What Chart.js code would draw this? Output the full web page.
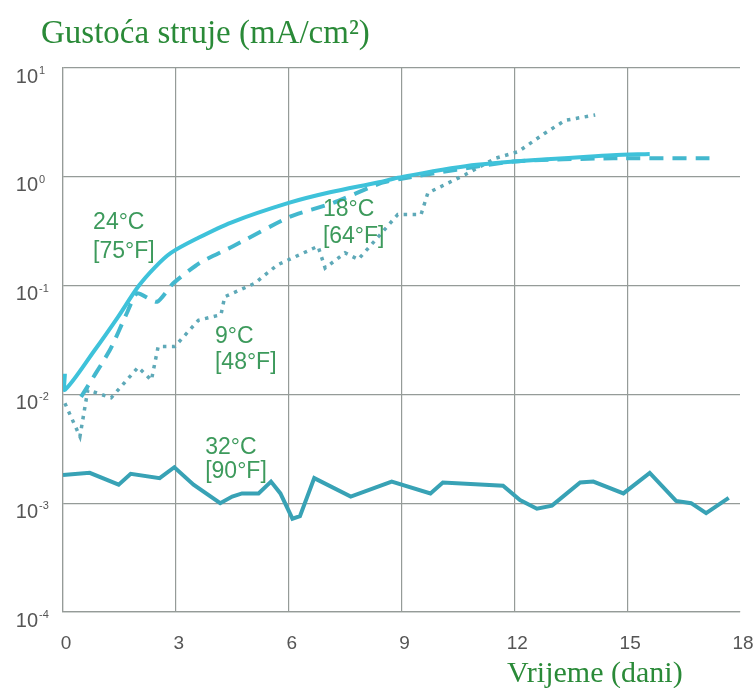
<!DOCTYPE html>
<html>
<head>
<meta charset="utf-8">
<script src="https://cdn.jsdelivr.net/npm/chart.js@4/dist/chart.umd.min.js"></script>
<style>
  html, body { margin: 0; padding: 0; background: #fff; }
  #wrap { width: 756px; height: 688px; }
</style>
</head>
<body>
<div id="wrap"><canvas id="chart"></canvas></div>
<script>
// 24°C [75°F] - solid line
const days24 = [0.05, 0.05, 0.85, 1.46, 2.0, 2.45, 2.87, 3.6, 4.47, 6.0, 7.1, 8.4, 8.9, 11.0, 14.6, 15.6];
const vals24 = [0.0155, 0.011, 0.0257, 0.0513, 0.098, 0.148, 0.2, 0.275, 0.38, 0.575, 0.72, 0.89, 0.98, 1.29, 1.58, 1.62];

// 18°C [64°F] - dashed line
const days18 = [0.48, 1.25, 1.7, 1.97, 2.5, 2.93, 3.64, 4.52, 6.04, 7.18, 8.43, 8.96, 11.97, 14.63, 17.2];
const vals18 = [0.0095, 0.0257, 0.056, 0.085, 0.071, 0.105, 0.162, 0.23, 0.43, 0.575, 0.87, 0.955, 1.38, 1.48, 1.48];

// 9°C [48°F] - dotted line
const days9 = [0.05, 0.45, 0.66, 1.28, 2.0, 2.35, 2.53, 2.97, 3.6, 4.2, 4.3, 5.1, 5.7, 6.78, 6.97, 7.5, 7.85, 8.38, 8.9, 9.52, 9.7, 10.7, 11.5, 12.1, 12.8, 13.35, 14.15];
const vals9 = [0.0083, 0.0041, 0.011, 0.0093, 0.0178, 0.0135, 0.0275, 0.0275, 0.048, 0.054, 0.079, 0.105, 0.155, 0.23, 0.145, 0.2, 0.174, 0.28, 0.45, 0.45, 0.71, 1.05, 1.48, 1.7, 2.5, 3.3, 3.7];

// 32°C [90°F]
const days32 = [0, 0.71, 1.48, 1.8, 2.57, 2.96, 3.47, 4.18, 4.5, 4.76, 5.2, 5.53, 5.78, 6.1, 6.3, 6.68, 7.65, 8.74, 9.77, 10.1, 11.7, 12.15, 12.6, 13.0, 13.75, 14.1, 14.9, 15.6, 16.3, 16.7, 17.1, 17.7];
const vals32 = [0.00182, 0.0019, 0.00148, 0.00186, 0.0017, 0.00214, 0.00148, 0.001, 0.00115, 0.00123, 0.00123, 0.00158, 0.00123, 0.00072, 0.00076, 0.0017, 0.00115, 0.00158, 0.00123, 0.00155, 0.00145, 0.00107, 0.00089, 0.00095, 0.00155, 0.00158, 0.00123, 0.0019, 0.00105, 0.001, 0.00081, 0.00112];

// axis ticks
const xTicks = [0, 3, 6, 9, 12, 15, 18];
const yTicks = [1e-4, 1e-3, 1e-2, 1e-1, 1, 10];
const yTickExps = ['-4', '-3', '-2', '-1', '0', '1'];

// curve labels (anchored in data units)
const curveLabels = ['24°C', '[75°F]', '18°C', '[64°F]', '9°C', '[48°F]', '32°C', '[90°F]'];
const labelDays = [0.8, 0.8, 6.91, 6.91, 4.04, 4.04, 3.78, 3.78];
const labelVals = [0.378, 0.204, 0.497, 0.28, 0.0339, 0.0195, 0.00323, 0.00195];

const yTitle = 'Gustoća struje (mA/cm²)';
const xTitle = 'Vrijeme (dani)';

const zip = (xs, ys) => xs.map((x, i) => ({ x: x, y: ys[i] }));

const textPlugin = {
  id: 'texts',
  afterDraw(chart) {
    const ctx = chart.ctx;
    const xs = chart.scales.x, ys = chart.scales.y;
    ctx.save();

    // y tick labels: 10 with a raised exponent, sitting just below each grid line
    ctx.fillStyle = '#555';
    ctx.textBaseline = 'middle';
    yTicks.forEach((v, i) => {
      const py = ys.getPixelForValue(v) + 9;
      ctx.font = '20px "Liberation Sans", Arial, sans-serif';
      ctx.textAlign = 'right';
      ctx.fillText('10', 38, py);
      ctx.font = '11px "Liberation Sans", Arial, sans-serif';
      ctx.textAlign = 'left';
      ctx.fillText(yTickExps[i], 39, py - 6);
    });

    // x tick labels, set well below the axis line
    ctx.font = '19px "Liberation Sans", Arial, sans-serif';
    ctx.textAlign = 'center';
    const baseY = xs.bottom !== undefined ? chart.chartArea.bottom : 612;
    xTicks.forEach((v) => {
      ctx.fillText(String(v), xs.getPixelForValue(v) + 3, baseY + 32);
    });

    // curve labels
    ctx.fillStyle = '#3d9a5c';
    ctx.font = '23px "Liberation Sans", Arial, sans-serif';
    ctx.textAlign = 'left';
    curveLabels.forEach((t, i) => {
      ctx.fillText(t, xs.getPixelForValue(labelDays[i]), ys.getPixelForValue(labelVals[i]));
    });

    // axis titles
    ctx.fillStyle = '#2a8a38';
    ctx.textBaseline = 'alphabetic';
    ctx.font = '33px "Liberation Serif", "Times New Roman", serif';
    ctx.fillText(yTitle, 41, 43);
    ctx.font = '30px "Liberation Serif", "Times New Roman", serif';
    ctx.fillText(xTitle, 507, 682);
    ctx.restore();
  }
};

new Chart(document.getElementById('chart'), {
  type: 'scatter',
  data: {
    datasets: [
      {
        label: '24°C',
        data: zip(days24, vals24),
        showLine: true,
        borderColor: '#3ec2da',
        borderWidth: 4,
        pointRadius: 0,
        tension: 0.3
      },
      {
        label: '18°C',
        data: zip(days18, vals18),
        showLine: true,
        borderColor: '#43b8ce',
        borderWidth: 4,
        borderDash: [14, 9],
        pointRadius: 0,
        tension: 0.2
      },
      {
        label: '9°C',
        data: zip(days9, vals9),
        showLine: true,
        borderColor: '#5ea9b8',
        borderWidth: 3.5,
        borderDash: [3.5, 5.5],
        pointRadius: 0,
        tension: 0
      },
      {
        label: '32°C',
        data: zip(days32, vals32),
        showLine: true,
        borderColor: '#38a2b5',
        borderWidth: 4,
        pointRadius: 0,
        tension: 0
      }
    ]
  },
  options: {
    responsive: true,
    maintainAspectRatio: false,
    animation: false,
    layout: { padding: { top: 68, right: 16, bottom: 0, left: 0 } },
    plugins: {
      legend: { display: false },
      tooltip: { enabled: false }
    },
    scales: {
      x: {
        type: 'linear',
        min: 0,
        max: 18,
        afterBuildTicks: (scale) => { scale.ticks = xTicks.map(v => ({ value: v })); },
        afterFit: (scale) => { scale.height = 76; },
        ticks: { display: false },
        grid: {
          color: (c) => (c.tick && c.tick.value === 18 ? 'rgba(0,0,0,0)' : '#959b98'),
          lineWidth: 1.2,
          drawTicks: false
        },
        border: { display: true, color: '#959b98', width: 1.2 }
      },
      y: {
        type: 'logarithmic',
        min: 1e-4,
        max: 10,
        afterBuildTicks: (scale) => { scale.ticks = yTicks.map(v => ({ value: v })); },
        afterFit: (scale) => { scale.width = 63; },
        ticks: { display: false },
        grid: {
          color: '#959b98',
          lineWidth: 1.2,
          drawTicks: false
        },
        border: { display: true, color: '#959b98', width: 1.2 }
      }
    }
  },
  plugins: [textPlugin]
});
</script>
</body>
</html>
